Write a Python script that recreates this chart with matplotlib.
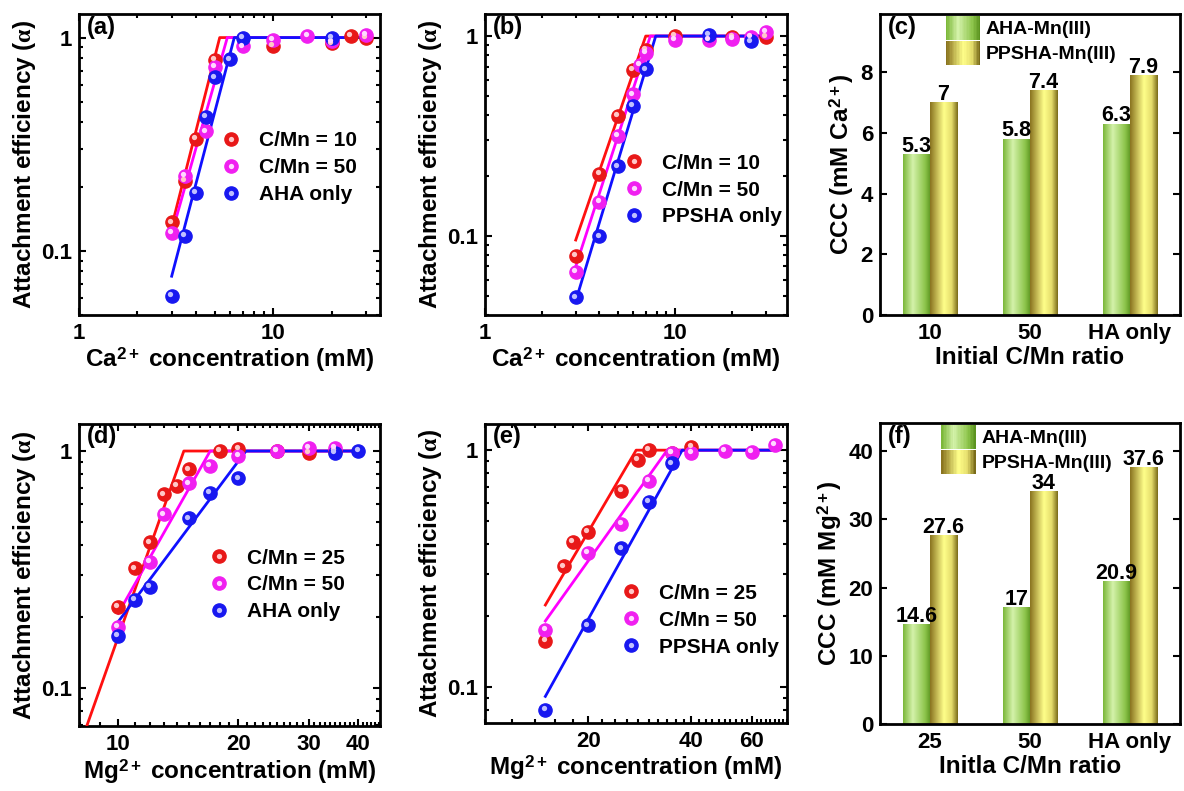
import numpy as np
import matplotlib
matplotlib.use('Agg')
import matplotlib.pyplot as plt
from matplotlib.patches import Rectangle
from matplotlib.legend_handler import HandlerBase
from matplotlib.lines import Line2D
from matplotlib.transforms import ScaledTranslation
import matplotlib.colors as mcolors

# ---------------- data ----------------
# (a) Ca2+, AHA-Mn(III)
a_cmn10_x = [3, 3.5, 4, 5, 10, 20, 25, 30]
a_cmn10_y = [0.136, 0.213, 0.334, 0.785, 0.917, 0.94, 1.02, 1.0]
a_cmn50_x = [3, 3.5, 4.5, 5, 7, 10, 15, 20, 30]
a_cmn50_y = [0.121, 0.225, 0.363, 0.73, 0.91, 0.975, 1.02, 0.96, 1.03]
a_only_x = [3, 3.5, 4, 4.5, 5, 6, 7, 20]
a_only_y = [0.0615, 0.117, 0.187, 0.423, 0.65, 0.79, 1.0, 1.0]
a_fit_cmn10 = ([3, 5.3, 32], [0.13, 1, 1])
a_fit_cmn50 = ([3, 5.8, 32], [0.12, 1, 1])
a_fit_only = ([3, 6.3, 32], [0.076, 1, 1])

# (b) Ca2+, PPSHA-Mn(III)
b_cmn10_x = [3, 4, 5, 6, 7, 10, 20, 30]
b_cmn10_y = [0.079, 0.203, 0.398, 0.676, 0.85, 1.0, 0.99, 0.99]
b_cmn50_x = [3, 4, 5, 6, 6.5, 7, 10, 15, 20, 25, 30]
b_cmn50_y = [0.066, 0.148, 0.316, 0.51, 0.716, 0.82, 0.96, 0.96, 0.97, 0.99, 1.05]
b_only_x = [3, 4, 5, 6, 7, 15, 25]
b_only_y = [0.049, 0.099, 0.222, 0.447, 0.68, 1.01, 0.94]
b_fit_cmn10 = ([3, 7.0, 32], [0.095, 1, 1])
b_fit_cmn50 = ([3, 7.4, 32], [0.070, 1, 1])
b_fit_only = ([3, 7.9, 32], [0.047, 1, 1])

# (d) Mg2+, AHA-Mn(III)
d_cmn25_x = [10, 11, 12, 13, 14, 15, 18, 20, 25, 30, 35]
d_cmn25_y = [0.221, 0.32, 0.412, 0.657, 0.714, 0.837, 1.0, 1.02, 1.0, 0.98, 1.0]
d_cmn50_x = [10, 12, 13, 15, 17, 20, 25, 30, 35]
d_cmn50_y = [0.181, 0.342, 0.541, 0.731, 0.867, 0.95, 1.0, 1.03, 1.03]
d_only_x = [10, 11, 12, 15, 17, 20, 35, 40]
d_only_y = [0.166, 0.236, 0.268, 0.52, 0.664, 0.767, 0.98, 1.0]
d_fit_cmn25 = ([8, 14.6, 40], [0.057, 1, 1])
d_fit_cmn50 = ([10, 17, 40], [0.207, 1, 1])
d_fit_only = ([10, 20.9, 40], [0.191, 1, 1])

# (e) Mg2+, PPSHA-Mn(III)
e_cmn25_x = [15, 17, 18, 20, 25, 28, 30, 35, 40]
e_cmn25_y = [0.156, 0.323, 0.411, 0.45, 0.674, 0.908, 1.0, 0.97, 1.03]
e_cmn50_x = [15, 20, 25, 30, 35, 40, 50, 60, 70]
e_cmn50_y = [0.174, 0.367, 0.488, 0.74, 0.97, 0.97, 0.99, 0.98, 1.05]
e_only_x = [15, 20, 25, 30, 35]
e_only_y = [0.080, 0.182, 0.385, 0.605, 0.88]
e_fit_cmn25 = ([15, 27.6, 70], [0.222, 1, 1])
e_fit_cmn50 = ([15, 34, 70], [0.19, 1, 1])
e_fit_only = ([15, 37.6, 70], [0.0913, 1, 1])

# (c) CCC Ca2+, (f) CCC Mg2+
c_categories = ['10', '50', 'HA only']
c_aha = [5.3, 5.8, 6.3]
c_ppsha = [7.0, 7.4, 7.9]
f_categories = ['25', '50', 'HA only']
f_aha = [14.6, 17, 20.9]
f_ppsha = [27.6, 34, 37.6]

# ---------------- style ----------------
plt.rcParams.update({
    'font.family': ['Liberation Sans', 'DejaVu Sans'],
    'font.weight': 'bold',
    'axes.labelweight': 'bold',
    'mathtext.fontset': 'custom',
    'mathtext.rm': 'Liberation Sans:bold',
    'mathtext.bf': 'Liberation Sans:bold',
    'mathtext.it': 'Liberation Serif',
    'axes.linewidth': 2.0,
})

RED, MAG, BLUE = '#ff1010', '#ff00ff', '#1010ff'
RED_M, MAG_M, BLUE_M = '#e81818', '#f020f0', '#1818f0'
RED_L, MAG_L, BLUE_L = '#ffc8c8', '#ffd8ff', '#c0c0ff'

GREEN_STOPS = [(0.0, '#7cb83a'), (0.35, '#d4f2aa'), (0.8, '#8cc44a'), (1.0, '#5c9420')]
YELLOW_STOPS = [(0.0, '#8a7420'), (0.5, '#ffff8a'), (0.78, '#e4dc6c'), (1.0, '#7a6c1a')]

fig = plt.figure(figsize=(11.84, 7.91), dpi=100)

AXLAB = 17.5
TICKFS = 16
LEGFS = 15
SUP = '$^{\\mathregular{2+}}$'


def grad_colors(stops, n=64):
    pos = [s[0] for s in stops]
    rgb = np.array([mcolors.to_rgb(s[1]) for s in stops])
    t = np.linspace(0, 1, n)
    out = np.stack([np.interp(t, pos, rgb[:, k]) for k in range(3)], axis=-1)
    return out[None, :, :]


class GradHandler(HandlerBase):
    def __init__(self, stops):
        super().__init__()
        self.stops = stops

    def create_artists(self, legend, orig_handle, xdescent, ydescent,
                       width, height, fontsize, trans):
        cols = grad_colors(self.stops, 24)[0]
        n = len(cols)
        arts = []
        for k, c in enumerate(cols):
            arts.append(Rectangle((-xdescent + width * k / n, -ydescent),
                                  width / n * 1.08, height, facecolor=c,
                                  edgecolor='none', transform=trans))
        return arts


def sphere(ax, x, y, color, light):
    ax.plot(x, y, 'o', ls='none', ms=9.5, color=color, mec=color, zorder=4)
    off = ax.transData + ScaledTranslation(-1.3 / 72, 1.3 / 72, fig.dpi_scale_trans)
    ax.plot(x, y, 'o', ls='none', ms=3.8, color=light, mew=0, transform=off, zorder=5)


def sphere_handle(color, light):
    return (Line2D([], [], marker='o', ls='none', ms=9.5, color=color),
            Line2D([], [], marker='o', ls='none', ms=3.8, color=light, mew=0))


def style_ax(ax):
    ax.tick_params(which='both', direction='in', top=True, right=True,
                   labelsize=TICKFS, width=1.5)
    ax.tick_params(which='major', length=5)
    ax.tick_params(which='minor', length=2.6)
    ax.tick_params(axis='x', which='both', pad=6)
    ax.tick_params(axis='y', which='both', pad=5)
    for t in ax.get_xticklabels() + ax.get_yticklabels():
        t.set_fontweight('bold')


def scatter_panel(rect, series, fits, labels, xlim, ylim, xticks, xminor,
                  xlabel, letter, leg_anchor):
    ax = fig.add_axes(rect)
    ax.set_xscale('log')
    ax.set_yscale('log')
    cols = [(RED, RED_M, RED_L), (MAG, MAG_M, MAG_L), (BLUE, BLUE_M, BLUE_L)]
    for (fx, fy), (lc, mc, ml) in zip(fits, cols):
        ax.plot(fx, fy, '-', color=lc, lw=2.0, zorder=3)
    for (sx, sy), (lc, mc, ml) in zip(series, cols):
        sphere(ax, sx, sy, mc, ml)
    ax.set_xlim(*xlim)
    ax.set_ylim(*ylim)
    ax.set_xticks(xticks, labels=[f'{v:g}' for v in xticks])
    if xminor is not None:
        ax.set_xticks(xminor, minor=True)
        ax.set_xticklabels([], minor=True)
    ax.set_yticks([0.1, 1], labels=['0.1', '1'])
    ax.set_ylabel('Attachment efficiency $\\mathit{(\\alpha)}$', fontsize=AXLAB,
                  labelpad=2)
    ax.set_xlabel(xlabel, fontsize=AXLAB, labelpad=1)
    style_ax(ax)
    handles = [sphere_handle(mc, ml) for (lc, mc, ml) in cols]
    ax.legend(handles, labels, loc='center left', bbox_to_anchor=leg_anchor,
              frameon=False, fontsize=LEGFS, handlelength=1.0,
              handletextpad=0.85, labelspacing=0.38, borderpad=0,
              borderaxespad=0)
    ax.text(0.025, 0.995, letter, transform=ax.transAxes, ha='left', va='top',
            fontsize=17, fontweight='bold')
    return ax


def bar_panel(rect, cats, v1, v2, ylim, yticks, ylabel, xlabel, letter, leg_anchor):
    ax = fig.add_axes(rect)
    x = np.arange(len(cats))
    w = 0.27
    for vals, stops, off in [(v1, GREEN_STOPS, -w / 2), (v2, YELLOW_STOPS, w / 2)]:
        bars = ax.bar(x + off, vals, width=w, facecolor='none', edgecolor='none')
        g = grad_colors(stops)
        for r, v in zip(bars, vals):
            x0 = r.get_x()
            ax.imshow(g, extent=[x0, x0 + r.get_width(), 0, r.get_height()],
                      aspect='auto', zorder=2, interpolation='bilinear')
            ax.annotate(f'{v:g}', (x0 + r.get_width() / 2, r.get_height()),
                        xytext=(0, 2), textcoords='offset points', ha='center',
                        va='baseline', fontsize=15.5, fontweight='bold')
    ax.set_xlim(-0.5, 2.5)
    ax.set_ylim(*ylim)
    ax.set_xticks(x, labels=cats)
    ax.set_yticks(yticks)
    ax.set_ylabel(ylabel, fontsize=AXLAB, labelpad=3)
    ax.set_xlabel(xlabel, fontsize=AXLAB, labelpad=1)
    ax.tick_params(axis='y', which='both', direction='in', left=True, right=True,
                   labelsize=TICKFS, width=1.5, length=5, pad=5)
    ax.tick_params(axis='x', length=0, labelsize=TICKFS, pad=6)
    for t in ax.get_xticklabels() + ax.get_yticklabels():
        t.set_fontweight('bold')
    p1, p2 = Rectangle((0, 0), 1, 1), Rectangle((0, 0), 1, 1)
    ax.legend([p1, p2], ['AHA-Mn(III)', 'PPSHA-Mn(III)'], loc='upper left',
              bbox_to_anchor=leg_anchor, frameon=False, fontsize=14,
              handlelength=1.75, handleheight=1.55, labelspacing=0.05,
              handletextpad=0.3, borderpad=0, borderaxespad=0,
              handler_map={p1: GradHandler(GREEN_STOPS), p2: GradHandler(YELLOW_STOPS)})
    ax.text(0.025, 0.995, letter, transform=ax.transAxes, ha='left', va='top',
            fontsize=17, fontweight='bold')
    return ax


scatter_panel([0.0667, 0.6018, 0.2542, 0.3805],
              [(a_cmn10_x, a_cmn10_y), (a_cmn50_x, a_cmn50_y), (a_only_x, a_only_y)],
              [a_fit_cmn10, a_fit_cmn50, a_fit_only],
              ['C/Mn = 10', 'C/Mn = 50', 'AHA only'],
              (1, 35.4), (0.050, 1.29), [1, 10], None,
              'Ca' + SUP + ' concentration (mM)', '(a)', (0.47, 0.49))

scatter_panel([0.4096, 0.6018, 0.2551, 0.3805],
              [(b_cmn10_x, b_cmn10_y), (b_cmn50_x, b_cmn50_y), (b_only_x, b_only_y)],
              [b_fit_cmn10, b_fit_cmn50, b_fit_only],
              ['C/Mn = 10', 'C/Mn = 50', 'PPSHA only'],
              (1, 38.7), (0.040, 1.29), [1, 10], None,
              'Ca' + SUP + ' concentration (mM)', '(b)', (0.46, 0.415))

scatter_panel([0.0667, 0.0822, 0.2542, 0.3818],
              [(d_cmn25_x, d_cmn25_y), (d_cmn50_x, d_cmn50_y), (d_only_x, d_only_y)],
              [d_fit_cmn25, d_fit_cmn50, d_fit_only],
              ['C/Mn = 25', 'C/Mn = 50', 'AHA only'],
              (7.97, 45.3), (0.0694, 1.30), [10, 20, 30, 40],
              [v for v in range(8, 46) if v not in (10, 20, 30, 40)],
              'Mg' + SUP + ' concentration (mM)', '(d)', (0.43, 0.467))

scatter_panel([0.4096, 0.0860, 0.2551, 0.378],
              [(e_cmn25_x, e_cmn25_y), (e_cmn50_x, e_cmn50_y), (e_only_x, e_only_y)],
              [e_fit_cmn25, e_fit_cmn50, e_fit_only],
              ['C/Mn = 25', 'C/Mn = 50', 'PPSHA only'],
              (10, 76), (0.0705, 1.29), [20, 40, 60],
              [v for v in range(10, 77, 2) if v not in (20, 40, 60)],
              'Mg' + SUP + ' concentration (mM)', '(e)', (0.45, 0.344))

bar_panel([0.7432, 0.6018, 0.2534, 0.3805], c_categories, c_aha, c_ppsha,
          (0, 9.93), [0, 2, 4, 6, 8], 'CCC (mM Ca' + SUP + ')', 'Initial C/Mn ratio',
          '(c)', (0.22, 0.995))

bar_panel([0.7432, 0.0847, 0.2534, 0.3805], f_categories, f_aha, f_ppsha,
          (0, 44.1), [0, 10, 20, 30, 40], 'CCC (mM Mg' + SUP + ')', 'Initla C/Mn ratio',
          '(f)', (0.205, 0.995))

fig.savefig('out.png', dpi=100)
